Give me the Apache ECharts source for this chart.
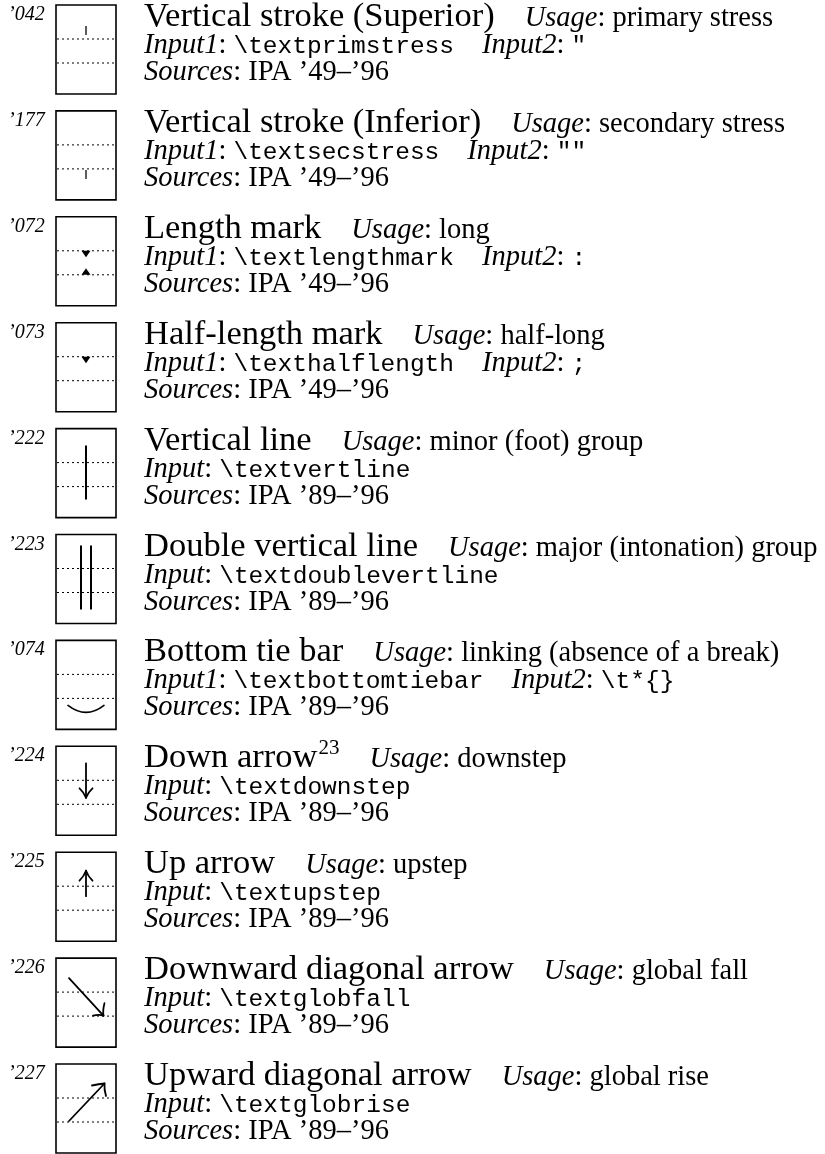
<!DOCTYPE html>
<html><head><meta charset="utf-8">
<script src="https://cdn.jsdelivr.net/npm/echarts@6/dist/echarts.min.js"></script>
<style>html,body{margin:0;padding:0;background:#fff}#c{width:825px;height:1154px}</style>
</head><body><div id="c"></div>
<script>
// ---- data ----
const codes = ["’042","’177","’072","’073","’222","’223","’074","’224","’225","’226","’227"];
const names = ["Vertical stroke (Superior)","Vertical stroke (Inferior)","Length mark","Half-length mark","Vertical line","Double vertical line","Bottom tie bar","Down arrow","Up arrow","Downward diagonal arrow","Upward diagonal arrow"];
const nameNotes = ["","","","","","","","23","","",""];
const usages = ["primary stress","secondary stress","long","half-long","minor (foot) group","major (intonation) group","linking (absence of a break)","downstep","upstep","global fall","global rise"];
const input1 = ["\\textprimstress","\\textsecstress","\\textlengthmark","\\texthalflength","\\textvertline","\\textdoublevertline","\\textbottomtiebar","\\textdownstep","\\textupstep","\\textglobfall","\\textglobrise"];
const input2 = ['"','""',':',';',null,null,'\\t*{}',null,null,null,null];
const sources = ["IPA ’49–’96","IPA ’49–’96","IPA ’49–’96","IPA ’49–’96","IPA ’89–’96","IPA ’89–’96","IPA ’89–’96","IPA ’89–’96","IPA ’89–’96","IPA ’89–’96","IPA ’89–’96"];
const glyphs = ["primstress","secstress","length","halflength","vertline","doublevertline","tiebar","downarrow","uparrow","globfall","globrise"];

// ---- text helpers ----
const cv = document.createElement('canvas').getContext('2d');
function W(t, f){ cv.font = f; cv.textBaseline = 'alphabetic'; return cv.measureText(t).width; }
function midOff(f){
  cv.font = f; cv.textBaseline = 'alphabetic';
  const a = cv.measureText('H').actualBoundingBoxAscent;
  cv.textBaseline = 'middle';
  const b = cv.measureText('H').actualBoundingBoxAscent;
  cv.textBaseline = 'alphabetic';
  return a - b;
}
function txt(t, x, base, f){
  return {type:'text', style:{text:t, x:x, y:base - midOff(f), font:f, fill:'#000', textAlign:'left', textVerticalAlign:'middle'}};
}
const F_code = 'italic 20px "Liberation Serif"';
const F_title = '34.5px "Liberation Serif"';
const F_sup = '21px "Liberation Serif"';
const F_it = 'italic 28.5px "Liberation Serif"';
const F_rm = '28.5px "Liberation Serif"';
const F_tt = '24.5px "Liberation Mono"';

const STK = {stroke:'#000', lineWidth:1.8, fill:null, lineCap:'round'};
function ln(x1,y1,x2,y2,st){ return {type:'line', shape:{x1,y1,x2,y2}, style:Object.assign({}, STK, st||{})}; }
function qc(x1,y1,cx,cy,x2,y2,st){ return {type:'bezierCurve', shape:{x1,y1,cpx1:cx,cpy1:cy,x2,y2}, style:Object.assign({}, STK, st||{})}; }
function tri(pts){ return {type:'polygon', shape:{points:pts}, style:{fill:'#000', stroke:null}}; }

function glyph(kind, L, T){
  const c = L + 86, out = [];
  const d1 = T + 34, d2 = T + 58;
  switch(kind){
    case 'primstress': out.push(ln(c,T+21,c,T+30,{lineWidth:1.6, stroke:'#333', lineCap:'butt'})); break;
    case 'secstress': out.push(ln(c,T+59,c,T+68,{lineWidth:1.6, stroke:'#333', lineCap:'butt'})); break;
    case 'length':
      out.push(tri([[c-4.5,d1],[c+4.5,d1],[c,d1+6.5]]));
      out.push(tri([[c-4.5,d2],[c+4.5,d2],[c,d2-6.5]])); break;
    case 'halflength': out.push(tri([[c-4.5,d1],[c+4.5,d1],[c,d1+6.5]])); break;
    case 'vertline': out.push(ln(c,T+17,c,T+71,{lineWidth:2,lineCap:'butt'})); break;
    case 'doublevertline':
      out.push(ln(c-5,T+11,c-5,T+75,{lineWidth:2,lineCap:'butt'}));
      out.push(ln(c+5,T+11,c+5,T+75,{lineWidth:2,lineCap:'butt'})); break;
    case 'tiebar': out.push(qc(L+68,T+65,c,T+79,L+104,T+65,{lineWidth:1.6})); break;
    case 'downarrow':
      out.push(ln(c,T+17,c,T+51));
      out.push(qc(c-6.5,T+42,c-2,T+46,c,T+51.5));
      out.push(qc(c+6.5,T+42,c+2,T+46,c,T+51.5)); break;
    case 'uparrow':
      out.push(ln(c,T+44,c,T+19));
      out.push(qc(c-6.5,T+28.5,c-2,T+24,c,T+18.5));
      out.push(qc(c+6.5,T+28.5,c+2,T+24,c,T+18.5)); break;
    case 'globfall':
      out.push(ln(L+69,T+20,L+103,T+57));
      out.push(qc(L+104.5,T+45,L+102.5,T+53,L+103.5,T+57.5));
      out.push(qc(L+93,T+57.5,L+99,T+56,L+103.5,T+57.5)); break;
    case 'globrise':
      out.push(ln(L+69,T+57,L+104,T+20));
      out.push(qc(L+92,T+21.5,L+99,T+20,L+104.5,T+19.5));
      out.push(qc(L+106,T+32,L+104,T+25,L+104.5,T+19.5)); break;
  }
  return out;
}

function renderItem(params, api){
  const i = api.value(1);
  const p = api.coord([0, i]);
  const L = p[0];
  const T = p[1] + 5;
  const ch = [];
  ch.push(txt(codes[i], L + 8, T + 15, F_code));
  ch.push({type:'rect', shape:{x:L+56, y:T, width:60, height:89}, style:{fill:null, stroke:'#000', lineWidth:1.6}});
  ch.push(ln(L+57, T+34, L+115, T+34, {lineWidth:1, lineDash:[2,3], lineCap:'butt'}));
  ch.push(ln(L+57, T+58, L+115, T+58, {lineWidth:1, lineDash:[2,3], lineCap:'butt'}));
  glyph(glyphs[i], L, T).forEach(g => ch.push(g));
  const X = L + 144;
  const b1 = T + 21, b2 = T + 48, b3 = T + 75;
  let x = X;
  ch.push(txt(names[i], x, b1, F_title)); x += W(names[i], F_title);
  if (nameNotes[i]) { ch.push(txt(nameNotes[i], x + 1, b1 - 13, F_sup)); x += 1 + W(nameNotes[i], F_sup); }
  x += 30;
  ch.push(txt('Usage', x, b1, F_it)); x += W('Usage', F_it);
  ch.push(txt(': ' + usages[i], x, b1, F_rm));
  x = X;
  const lab = input2[i] !== null ? 'Input1' : 'Input';
  ch.push(txt(lab, x, b2, F_it)); x += W(lab, F_it);
  ch.push(txt(': ', x, b2, F_rm)); x += W(': ', F_rm);
  ch.push(txt(input1[i], x, b2, F_tt)); x += W(input1[i], F_tt);
  if (input2[i] !== null) {
    x += 28;
    ch.push(txt('Input2', x, b2, F_it)); x += W('Input2', F_it);
    ch.push(txt(': ', x, b2, F_rm)); x += W(': ', F_rm);
    ch.push(txt(input2[i], x, b2, F_tt));
  }
  x = X;
  ch.push(txt('Sources', x, b3, F_it)); x += W('Sources', F_it);
  ch.push(txt(': ' + sources[i], x, b3, F_rm));
  return {type:'group', children: ch};
}

const ROW = 105.9;
const chart = echarts.init(document.getElementById('c'), null, {renderer:'canvas'});
chart.setOption({
  animation: false,
  backgroundColor: '#fff',
  grid: {left: 0, top: 0, right: 0, bottom: 0},
  xAxis: {type:'value', min:0, max:825, show:false},
  yAxis: {type:'value', min:0, max:1154 / ROW, inverse: true, show:false},
  series: [{
    type: 'custom',
    renderItem: renderItem,
    data: codes.map((c, i) => [0, i]),
    encode: {x: 0, y: 1},
    clip: false
  }]
});
</script>
</body></html>
